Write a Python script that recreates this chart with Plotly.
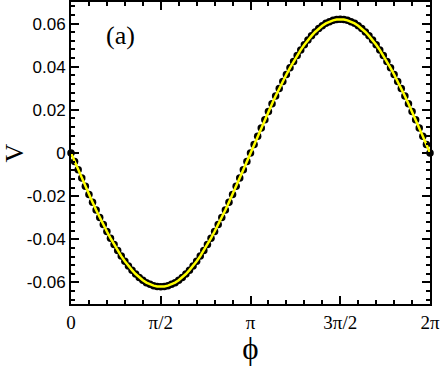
import math
import numpy as np
import plotly.graph_objects as go

# V values (101 evenly spaced samples of phi in [0, 2pi])
V = [0.0, -0.0039, -0.0078, -0.0116, -0.0154, -0.0192, -0.0228, -0.0264, -0.0299, -0.0332,
     -0.0364, -0.0395, -0.0424, -0.0452, -0.0478, -0.0502, -0.0524, -0.0543, -0.0561, -0.0577,
     -0.0590, -0.0601, -0.0609, -0.0615, -0.0619, -0.0620, -0.0619, -0.0615, -0.0609, -0.0601,
     -0.0590, -0.0577, -0.0561, -0.0543, -0.0524, -0.0502, -0.0478, -0.0452, -0.0424, -0.0395,
     -0.0364, -0.0332, -0.0299, -0.0264, -0.0228, -0.0192, -0.0154, -0.0116, -0.0078, -0.0039,
     0.0, 0.0039, 0.0078, 0.0116, 0.0154, 0.0192, 0.0228, 0.0264, 0.0299, 0.0332,
     0.0364, 0.0395, 0.0424, 0.0452, 0.0478, 0.0502, 0.0524, 0.0543, 0.0561, 0.0577,
     0.0590, 0.0601, 0.0609, 0.0615, 0.0619, 0.0620, 0.0619, 0.0615, 0.0609, 0.0601,
     0.0590, 0.0577, 0.0561, 0.0543, 0.0524, 0.0502, 0.0478, 0.0452, 0.0424, 0.0395,
     0.0364, 0.0332, 0.0299, 0.0264, 0.0228, 0.0192, 0.0154, 0.0116, 0.0078, 0.0039,
     0.0]
phi = np.linspace(0, 2 * math.pi, len(V))

x_tickvals = [0, math.pi / 2, math.pi, 3 * math.pi / 2, 2 * math.pi]
x_ticktext = ["0", "π/2", "π", "3π/2", "2π"]
y_tickvals = [-0.06, -0.04, -0.02, 0, 0.02, 0.04, 0.06]
y_ticktext = ["-0.06", "-0.04", "-0.02", "0", "0.02", "0.04", "0.06"]

fig = go.Figure()
fig.add_trace(go.Scatter(x=phi, y=V, mode="markers",
                         marker=dict(color="black", size=7.5),
                         cliponaxis=False, showlegend=False))
fig.add_trace(go.Scatter(x=phi, y=V, mode="lines",
                         line=dict(color="#ffff00", width=2.5),
                         cliponaxis=False, showlegend=False))

fig.update_layout(
    width=443, height=366,
    margin=dict(l=71, r=13, t=2, b=61.5),
    paper_bgcolor="white", plot_bgcolor="white",
    xaxis=dict(range=[0, 2 * math.pi], tickmode="array", tickvals=x_tickvals,
               ticktext=x_ticktext, ticks="inside", ticklen=8, tickwidth=1.5,
               tickcolor="black", showline=True, linewidth=2, linecolor="black",
               mirror="ticks", showgrid=False, zeroline=False, automargin=False,
               tickfont=dict(family="Liberation Serif", size=19, color="black"),
               minor=dict(tickvals=[k * math.pi / 10 for k in range(21)],
                          ticks="inside", ticklen=4, tickwidth=1.5, tickcolor="black",
                          showgrid=False),
               title=dict(text="ϕ", font=dict(family="Liberation Serif", size=31, color="black"),
                          standoff=0)),
    yaxis=dict(range=[-0.07, 0.07], tickmode="array", tickvals=y_tickvals,
               ticktext=y_ticktext, ticks="inside", ticklen=8, tickwidth=1.5,
               tickcolor="black", showline=True, linewidth=2, linecolor="black",
               mirror="ticks", showgrid=False, zeroline=False, ticklabelstandoff=0,
               automargin=False,
               tickfont=dict(family="Liberation Sans", size=17, color="black"),
               minor=dict(tickvals=[round(-0.068 + 0.004 * k, 4) for k in range(35)],
                          ticks="inside", ticklen=4, tickwidth=1.5, tickcolor="black",
                          showgrid=False),
               title=dict(text="V", font=dict(family="Liberation Serif", size=26, color="black"),
                          standoff=10)),
    annotations=[dict(text="(a)", x=0.1386, y=0.8876, xref="paper", yref="paper",
                      showarrow=False, xanchor="center", yanchor="middle",
                      font=dict(family="Liberation Serif", size=26, color="black"))],
)

fig.write_html("out.html", config={"displayModeBar": False},
               post_script="document.body.style.margin='0';")
